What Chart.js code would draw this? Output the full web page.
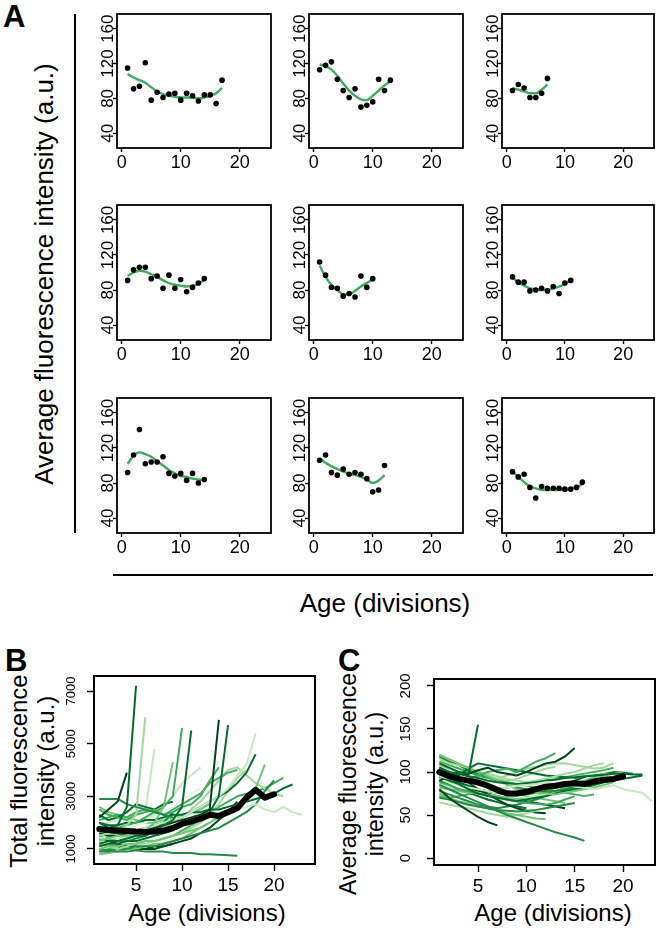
<!DOCTYPE html>
<html>
<head>
<meta charset="utf-8">
<script src="https://cdn.jsdelivr.net/npm/chart.js@4/dist/chart.umd.min.js"></script>
<style>
  body { margin: 0; background: #fff; font-family: "Liberation Sans", Arial, sans-serif; }
  #fig { position: relative; width: 660px; height: 930px; overflow: hidden; }
  canvas { position: absolute; }
  .t { position: absolute; white-space: nowrap; line-height: 1; color: #000; }
  .rot { transform: translate(-50%, -50%) rotate(-90deg); text-align: center; }
  .hor { transform: translate(-50%, -50%); }
  .lab { font-weight: bold; font-size: 31px; }
  .rule { position: absolute; background: #000; }
</style>
</head>
<body>
<div id="fig">
  <div class="t lab" style="left:3px;top:1px">A</div>
  <div class="t lab" style="left:5px;top:645px">B</div>
  <div class="t lab" style="left:338px;top:645px">C</div>

  <div class="t rot" style="left:44px;top:274px;font-size:26px">Average fluorescence intensity (a.u.)</div>
  <div class="rule" style="left:74px;top:14px;width:1.5px;height:519px"></div>
  <div class="rule" style="left:113px;top:574px;width:540px;height:1.5px"></div>
  <div class="t hor" style="left:385px;top:603px;font-size:26px">Age (divisions)</div>

  <div class="t rot" style="left:32px;top:771px;font-size:24px;line-height:27px">Total fluorescence<br>intensity (a.u.)</div>
  <div class="t hor" style="left:207px;top:913px;font-size:24px">Age (divisions)</div>

  <div class="t rot" style="left:362px;top:784px;font-size:23px;line-height:27px">Average fluorescence<br>intensity (a.u.)</div>
  <div class="t hor" style="left:553px;top:913px;font-size:24px">Age (divisions)</div>
</div>

<script>
// Panel A: nine single cells, measured points (ages 1..n) and their smoothed fit
const a1Points = [115, 91, 94, 121, 78, 87, 81, 85, 86, 78, 86, 83, 77, 84, 84, 74, 101];
const a1Fit    = [108, 104, 101, 98, 93, 88, 85, 83, 82, 81, 81, 81, 80, 81, 83, 86, 92];
const a2Points = [113, 118, 122, 102, 89, 81, 91, 70, 72, 76, 102, 89, 101];
const a2Fit    = [119, 117, 113, 106, 97, 89, 83, 79, 78, 83, 89, 95, 100];
const a3Points = [89, 96, 92, 81, 81, 86, 103];
const a3Fit    = [92, 90, 88, 86, 86, 90, 96];
const a4Points = [91, 103, 106, 106, 93, 96, 82, 97, 82, 92, 78, 83, 88, 93];
const a4Fit    = [96, 100, 102, 101, 98, 95, 91, 88, 86, 85, 84, 85, 87, 92];
const a5Points = [112, 97, 83, 82, 73, 76, 72, 96, 83, 93];
const a5Fit    = [108, 95, 86, 80, 75, 75, 79, 84, 88, 92];
const a6Points = [95, 89, 89, 79, 80, 82, 79, 84, 76, 88, 91];
const a6Fit    = [94, 89, 85, 82, 81, 80, 80, 82, 84, 87, 91];
const a7Points = [92, 112, 141, 102, 104, 104, 110, 91, 88, 91, 83, 91, 80, 84];
const a7Fit    = [102, 111, 115, 113, 110, 105, 100, 95, 91, 88, 87, 85, 84, 83];
const a8Points = [106, 112, 92, 89, 96, 90, 92, 90, 85, 70, 72, 100];
const a8Fit    = [108, 103, 99, 96, 93, 91, 89, 87, 84, 80, 83, 89];
const a9Points = [93, 87, 90, 75, 63, 76, 74, 74, 74, 73, 73, 75, 81];
const a9Fit    = [93, 87, 81, 76, 74, 72, 72, 72, 72, 72, 74, 75, 79];

// Panel B: total fluorescence per cell, ages 1..n, and the population mean
const bMean = [1760, 1720, 1700, 1680, 1660, 1650, 1660, 1700, 1800, 1950, 2050, 2150, 2300, 2250, 2400, 2550, 2950, 3250, 2950, 3080];
const bTraces = [
  [2200, 2500, 2800, 3900],
  [2000, 1800, 1900, 2600, 7200],
  [2900, 2900, 2900, 2700, 2600, 2500, 2400, 2300, 2200],
  [1500, 1600, 1700, 1900, 2300, 6000],
  [1300, 1400, 1500, 1500, 1600, 1700, 2000, 2600, 4300],
  [1800, 1700, 1800, 1900, 2000, 2200, 2400, 2600, 3000, 5600],
  [1200, 1300, 1300, 1400, 1500, 1500, 1700, 1900, 2100, 2600, 5500],
  [1600, 1500, 1500, 1600, 1600, 1700, 1800, 1900, 2000, 2100, 2200, 2300, 2500, 5900],
  [1100, 1200, 1200, 1300, 1300, 1400, 1500, 1600, 1700, 1900, 2000, 2200, 2400, 3000, 5700],
  [1400, 1500, 1500, 1600, 1700, 1800, 1900, 2000, 2100, 2200, 2400, 2600, 2800, 3000, 3300, 3800, 4200, 5400],
  [1700, 1600, 1600, 1700, 1700, 1800, 1900, 2000, 2100, 2200, 2400, 2600, 2800, 3000, 3200, 3500, 3900, 4600],
  [1000, 1100, 1100, 1200, 1200, 1300, 1300, 1400, 1500, 1600, 1700, 1800, 2000, 2200, 2400, 2600, 2900, 3300, 4200],
  [1000, 950, 900, 900, 950, 900, 900, 900, 850, 850, 850, 800, 800, 780, 760, 740],
  [1300, 1400, 1400, 1500, 1500, 1600, 1700, 1700, 1800, 1900, 2000, 2100, 2200, 2300, 2400, 2500, 2600, 2700, 2500, 2400, 2600, 2400, 2300],
  [2000, 1900, 1900, 2000, 2000, 2100, 2100, 2200, 2300, 2300, 2400, 2400, 2500, 2500, 2600, 2700, 2800, 2900, 3000, 3100, 3300, 3450],
  [2500, 2300, 2200, 2100, 2300, 2400, 2500, 2300, 2400, 2600, 2700, 3000, 3600, 4100],
  [1200, 1100, 1000, 1100, 1200, 1200, 1300, 1400, 1500, 1600, 1800, 2000, 2300, 2700, 3200, 3700, 4000],
  [1600, 1700, 1800, 1800, 1900, 2000, 2200, 2400, 2600, 2900, 3100, 3300],
  [900, 900, 1000, 1000, 1100, 1100, 1100, 1200, 1300, 1400, 1500, 1600, 1700, 1800, 2000, 2200, 2400, 2700, 3200, 3600],
  [2300, 2100, 2200, 2400, 2700, 2600, 2500, 2700, 2800],
  [800, 850, 900, 1000, 1000, 1100, 1200, 1200, 1300, 1400, 1600, 1800, 2000],
  [2100, 2200, 2300, 2200, 2400, 2500, 2400, 2300, 2500, 2700, 2900, 3100, 3500, 3700, 3900, 4000],
  [1900, 2000, 2100, 2200, 2300, 2400, 4800],
  [1400, 1300, 1200, 1100, 1100, 1000, 1000, 1100, 1200],
  [1100, 1200, 1300, 1400, 1500, 1600, 1700, 1800, 2000, 2200, 2500, 2800, 3200, 3600, 4000, 4100, 3800, 3500, 3300, 3100, 3000],
  [1500, 1400, 1300, 1300, 1400, 1500, 1700, 2000, 2400],
  [2600, 2400, 2300, 2200, 2100, 2000, 2000, 2100, 2200, 2300, 2400, 2500, 2700],
  [1200, 1100, 1100, 1000, 1000, 1000, 1100, 1100, 1200, 1300, 1400, 1600, 1800, 2100, 2400, 2800],
  [1700, 1800, 1700, 1800, 1900, 2100, 2300, 2600, 3000, 3500, 3800, 4100],
  [900, 1000, 1000, 1100, 1200, 1300, 1300, 1400, 1500, 1700, 1900, 2100, 2400, 2600, 2800, 3000, 3100, 3200, 3300, 3500, 3700]
];

// Panel C: average fluorescence per cell, ages 1..n, and the population mean
const cMean = [100, 95, 92, 90, 88, 84, 79, 75, 75, 77, 80, 83, 84, 86, 87, 86, 89, 91, 92, 95];
const cTraces = [
  [110, 105, 100, 96, 155],
  [85, 80, 75, 70, 65, 60, 55, 50, 46, 42, 38, 34, 30, 27, 24, 20],
  [95, 92, 90, 88, 85, 83, 80, 82, 84, 85, 86, 88, 86, 85, 83, 82, 80, 82, 85, 80, 78, 76, 66],
  [105, 100, 98, 95, 93, 90, 88, 87, 86, 87, 88, 90, 91, 93, 94, 95, 96, 97, 98, 98, 97, 97],
  [90, 95, 100, 98, 102, 105, 100, 98, 96, 100, 105, 110, 112, 118, 128],
  [100, 95, 90, 92, 96, 100, 102, 104, 100, 106, 112, 116, 122],
  [80, 70, 62, 55, 48, 42, 38],
  [120, 115, 110, 105, 100, 95, 90, 85, 80, 78, 76, 75, 74, 76, 78, 80, 82, 85, 88],
  [115, 110, 108, 105, 100, 98, 95, 92, 90, 88, 90, 92, 95, 98, 100, 104, 108, 110],
  [70, 68, 65, 62, 60, 58, 56, 55, 54, 55, 56, 58, 60, 62, 64],
  [95, 90, 86, 80, 75, 72, 70, 68, 66, 68, 70, 72, 75, 78, 80, 82, 85, 88, 90, 92, 94, 96],
  [75, 70, 66, 64, 60, 58, 55, 52, 50, 48, 46, 45],
  [110, 105, 100, 96, 92, 90, 88, 86, 85, 84, 86, 88, 90, 92, 94, 96, 98, 100, 102],
  [88, 85, 80, 78, 75, 73, 70, 68, 66, 64, 63, 62, 64, 68, 72],
  [100, 98, 96, 104, 110, 108, 106, 104, 102, 100, 98, 96, 95, 94, 93, 95, 96, 97],
  [65, 62, 60, 58, 55, 52, 50, 48, 50, 52, 55],
  [118, 112, 108, 102, 98, 94, 90, 86, 82, 80, 78, 76, 78, 80, 82, 84, 86, 88, 90],
  [92, 88, 85, 82, 80, 78, 76, 74, 72, 70, 72, 74, 76, 78, 80],
  [105, 100, 94, 88, 80, 74, 68, 62, 58, 55, 53, 52],
  [82, 80, 78, 76, 75, 74, 72, 70, 68, 70, 72, 75, 78, 82, 86, 90, 94, 96, 98, 100],
  [112, 108, 104, 100, 96, 93, 90, 88, 86, 84, 82, 80, 78, 76, 74, 72, 74],
  [90, 85, 80, 76, 72, 68, 65, 62, 60, 58],
  [100, 96, 94, 92, 90, 88, 92, 96, 100, 104, 106, 108, 110, 110, 108, 106, 104, 105, 110],
  [78, 74, 70, 66, 62, 60, 58, 60, 62, 65, 68, 72, 76, 80, 84, 88],
  [96, 92, 88, 84, 80, 78, 76, 74, 72, 74, 76, 78, 82, 86, 90, 94, 98, 100, 100, 99, 98],
  [86, 82, 80, 78, 76, 74, 72, 70, 72, 74, 76, 80, 85],
  [108, 104, 100, 95, 90, 86, 82, 78, 75, 72, 70, 68, 66, 64],
  [94, 90, 86, 82, 78, 75, 72, 70, 68, 66, 64, 62, 60, 58],
  [72, 70, 72, 74, 76, 78, 80, 82, 84, 86, 88, 90, 92, 94, 96, 98, 100, 102, 105],
  [120, 114, 108, 104, 100, 96, 92, 90, 92, 96, 100, 104, 106]
];

// tick labels
const aTicksX = [0, 10, 20];
const aTicksY = [40, 80, 120, 160];
const bcTicksX = [5, 10, 15, 20];
const bTicksY = [1000, 3000, 5000, 7000];
const cTicksY = [0, 50, 100, 150, 200];

// styling
const greens = ['#00441b', '#006d2c', '#238b45', '#41ab5d', '#74c476', '#a1d99b', '#c7e9c0', '#e5f5e0'];
const bShade = [0, 1, 2, 5, 4, 3, 1, 0, 1, 6, 1, 4, 2, 6, 1, 3, 5, 7, 2, 1, 4, 3, 6, 0, 5, 2, 4, 0, 6, 3];
const cShade = [1, 2, 6, 1, 0, 3, 0, 4, 5, 2, 1, 4, 7, 3, 1, 5, 2, 6, 0, 4, 3, 1, 5, 2, 1, 6, 4, 0, 3, 5];
const fitGreen = '#3daa5c';
const FONT = 'Liberation Sans';

const fig = document.getElementById('fig');

function toXY(vals) {
  return vals.map((v, i) => ({ x: i + 1, y: v }));
}

// Draws the closed frame round the plotting area, like R's box()
const framePlugin = {
  id: 'frame',
  afterDraw(chart, args, opts) {
    const a = chart.chartArea, ctx = chart.ctx;
    ctx.save();
    ctx.strokeStyle = '#000';
    ctx.lineWidth = opts.width || 2;
    ctx.strokeRect(a.left, a.top, a.right - a.left, a.bottom - a.top);
    ctx.restore();
  }
};

function axis(min, max, ticks, s, vertical) {
  return {
    type: 'linear', min: min, max: max, bounds: 'data',
    afterBuildTicks: sc => { sc.ticks = ticks.map(v => ({ value: v })); },
    afterFit: sc => {
      if (vertical) sc.width = s.yWidth; else sc.height = s.xHeight;
      sc.paddingTop = sc.paddingBottom = sc.paddingLeft = sc.paddingRight = 0;
    },
    border: { display: false },
    grid: { drawOnChartArea: false, tickLength: s.tick, tickWidth: 1.4, tickColor: '#000' },
    // y labels run up the axis, as R draws them
    ticks: vertical
      ? { color: '#000', font: { family: FONT, size: s.yFont }, padding: s.yPad, minRotation: 90, maxRotation: 90,
          crossAlign: 'center', autoSkip: false, callback: v => String(v) }
      : { color: '#000', font: { family: FONT, size: s.xFont }, padding: s.xPad, minRotation: 0, maxRotation: 0,
          autoSkip: false, callback: v => String(v) }
  };
}

// box = [left, top, right, bottom] of the frame on the page
function makeChart(box, datasets, s) {
  const padT = 8, padR = 5;
  const w = box[2] - box[0] + s.yWidth + padR;
  const h = box[3] - box[1] + padT + s.xHeight;
  const cv = document.createElement('canvas');
  cv.width = w; cv.height = h;
  cv.style.left = (box[0] - s.yWidth) + 'px';
  cv.style.top = (box[1] - padT) + 'px';
  fig.appendChild(cv);
  return new Chart(cv, {
    type: 'scatter',
    data: { datasets: datasets },
    options: {
      responsive: false,
      animation: false,
      events: [],
      layout: { padding: { left: 0, top: padT, right: padR, bottom: 0 } },
      plugins: { legend: { display: false }, tooltip: { enabled: false }, frame: { width: s.frame } },
      scales: {
        x: axis(s.xMin, s.xMax, s.xTicks, s, false),
        y: axis(s.yMin, s.yMax, s.yTicks, s, true)
      }
    },
    plugins: [framePlugin]
  });
}

// ---- Panel A grid ----
const aCols = [[117, 271], [309, 463], [502, 654]];
const aRows = [[14, 148], [205, 340], [398, 533]];
const aPanels = [
  [a1Points, a1Fit], [a2Points, a2Fit], [a3Points, a3Fit],
  [a4Points, a4Fit], [a5Points, a5Fit], [a6Points, a6Fit],
  [a7Points, a7Fit], [a8Points, a8Fit], [a9Points, a9Fit]
];
const aStyle = {
  xMin: -0.8, xMax: 25.3, yMin: 23, yMax: 177, xTicks: aTicksX, yTicks: aTicksY,
  yWidth: 40, xHeight: 30, tick: 4, xFont: 18, yFont: 17, xPad: 0, yPad: -9, frame: 1.8
};
aPanels.forEach((p, i) => {
  const c = aCols[i % 3], r = aRows[Math.floor(i / 3)];
  makeChart([c[0], r[0], c[1], r[1]], [
    { type: 'scatter', data: toXY(p[0]), pointRadius: 2.8, pointBackgroundColor: '#000', pointBorderWidth: 0 },
    { type: 'line', data: toXY(p[1]), borderColor: fitGreen, borderWidth: 2.4, pointRadius: 0,
      cubicInterpolationMode: 'monotone', fill: false }
  ], aStyle);
});

// ---- Panels B and C ----
function traceSets(mean, traces, shade) {
  const sets = [{ type: 'line', data: toXY(mean), borderColor: '#000', borderWidth: 6, pointRadius: 0,
    borderCapStyle: 'round', borderJoinStyle: 'round', fill: false }];
  traces.forEach((t, i) => {
    sets.push({ type: 'line', data: toXY(t), borderColor: greens[shade[i]], borderWidth: 2, pointRadius: 0,
      borderJoinStyle: 'round', fill: false });
  });
  return sets;
}

makeChart([94, 676, 315, 864], traceSets(bMean, bTraces, bShade), {
  xMin: 0.43, xMax: 24.45, yMin: 430, yMax: 7570, xTicks: bcTicksX, yTicks: bTicksY,
  yWidth: 40, xHeight: 36, tick: 7, xFont: 19, yFont: 13, xPad: 3, yPad: 1, frame: 2
});

makeChart([434, 679, 655, 865], traceSets(cMean, cTraces, cShade), {
  xMin: 0.45, xMax: 23.3, yMin: -8, yMax: 208, xTicks: bcTicksX, yTicks: cTicksY,
  yWidth: 40, xHeight: 36, tick: 7, xFont: 19, yFont: 15, xPad: 3, yPad: 9, frame: 2
});
</script>
</body>
</html>
